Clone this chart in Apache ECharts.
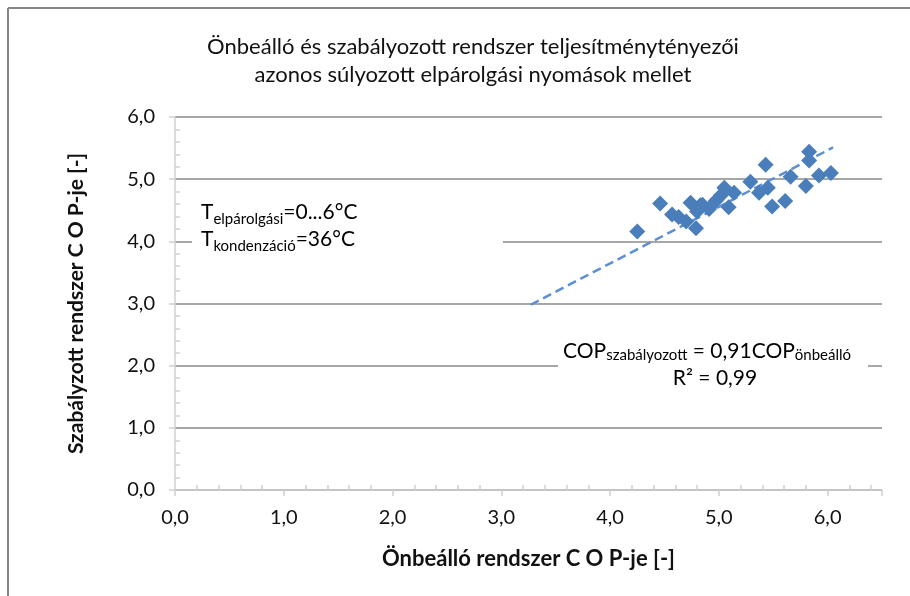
<!DOCTYPE html>
<html>
<head>
<meta charset="utf-8">
<script src="https://cdn.jsdelivr.net/npm/echarts@6/dist/echarts.min.js"></script>
<style>
  html, body { margin: 0; padding: 0; background: #fff; }
  #chart { width: 910px; height: 596px; }
</style>
</head>
<body>
<div id="chart"></div>
<script>
    // Önbeálló (x) és szabályozott (y) COP értékek
    var copOnbeallo = [4.25, 4.46, 4.57, 4.63, 4.70, 4.74, 4.79, 4.83, 4.85, 4.80, 4.91, 4.97,
        5.02, 5.05, 5.09, 5.14, 5.29, 5.37, 5.45, 5.43, 5.49, 5.61, 5.66, 5.80, 5.83, 5.83, 5.92, 6.03];
    var copSzabalyozott = [4.16, 4.61, 4.43, 4.39, 4.32, 4.62, 4.21, 4.58, 4.59, 4.48, 4.52, 4.65,
        4.74, 4.86, 4.55, 4.78, 4.96, 4.78, 4.86, 5.23, 4.56, 4.65, 5.04, 4.89, 5.44, 5.30, 5.06, 5.10];
    // trendvonal végpontjai
    var trendX = [3.27, 6.05];
    var trendY = [2.98, 5.51];
    var xTicks = [0, 1, 2, 3, 4, 5, 6];
    var yTicks = [0, 1, 2, 3, 4, 5, 6];

    var font = 'Lato, "Open Sans", sans-serif';
    var myChart = echarts.init(document.getElementById('chart'));

    function comma(v) {
        return v.toFixed(1).replace('.', ',');
    }

    var points = copOnbeallo.map(function (x, i) { return [x, copSzabalyozott[i]]; });
    var trend = trendX.map(function (x, i) { return [x, trendY[i]]; });

    var option = {
        animation: false,
        backgroundColor: '#fff',
        title: {
            text: 'Önbeálló és szabályozott rendszer teljesítménytényezői\nazonos súlyozott elpárolgási nyomások mellet',
            left: 468,
            top: 28,
            textAlign: 'center',
            textStyle: {fontFamily: font, fontWeight: 'normal', fontSize: 22, color: '#111', lineHeight: 28}
        },
        grid: {left: 175, right: 28, top: 117, bottom: 106},
        xAxis: [{
            type: 'value', min: 0, max: 6.5, interval: 1,
            name: 'Önbeálló rendszer C O P-je [-]',
            nameLocation: 'middle', nameGap: 58,
            nameTextStyle: {fontFamily: font, fontWeight: 'bold', fontSize: 22, color: '#111'},
            axisLine: {lineStyle: {color: '#d0d0d0', width: 1.5}},
            axisTick: {show: true, length: 6, lineStyle: {color: '#d0d0d0', width: 1.5}},
            axisLabel: {
                fontFamily: font, fontSize: 20, color: '#111', margin: 18,
                formatter: function (v) { return xTicks.indexOf(v) >= 0 ? comma(v) : ''; }
            },
            splitLine: {show: false}
        }, {
            type: 'value', min: 0, max: 6.5, interval: 1, position: 'bottom',
            axisLine: {show: false},
            axisTick: {show: false, inside: true},
            minorTick: {show: true, splitNumber: 5, length: 5, lineStyle: {color: '#d0d0d0', width: 1.5}},
            axisLabel: {show: false},
            splitLine: {show: false}
        }],
        yAxis: [{
            type: 'value', min: 0, max: 6, interval: 1,
            name: 'Szabályzott rendszer C O P-je [-]',
            nameLocation: 'middle', nameGap: 88,
            nameTextStyle: {fontFamily: font, fontWeight: 'bold', fontSize: 21, color: '#111'},
            axisLine: {show: true, lineStyle: {color: '#d0d0d0', width: 1.5}},
            axisTick: {show: true, length: 6, lineStyle: {color: '#d0d0d0', width: 1.5}},
            axisLabel: {
                fontFamily: font, fontSize: 20, color: '#111', margin: 20,
                formatter: function (v) { return yTicks.indexOf(v) >= 0 ? comma(v) : ''; }
            },
            splitLine: {show: true, lineStyle: {color: '#8a8a8a', width: 1.5}}
        }, {
            type: 'value', min: 0, max: 6, interval: 1, position: 'left',
            axisLine: {show: false},
            axisTick: {show: false, inside: true},
            minorTick: {show: true, splitNumber: 5, length: 5, lineStyle: {color: '#d0d0d0', width: 1.5}},
            axisLabel: {show: false},
            splitLine: {show: false}
        }],
        series: [{
            type: 'line',
            data: trend,
            symbol: 'none',
            z: 3,
            lineStyle: {color: '#5b8fd6', width: 2.5, type: [9, 5]}
        }, {
            type: 'scatter',
            data: points,
            symbol: 'diamond',
            symbolSize: 16,
            z: 4,
            itemStyle: {color: '#4a7ebb', opacity: 1}
        }],
        graphic: [
            // keret
            {type: 'line', shape: {x1: 8, y1: 8, x2: 8, y2: 596}, style: {stroke: '#868686', lineWidth: 2}},
            {type: 'line', shape: {x1: 8, y1: 8, x2: 910, y2: 8}, style: {stroke: '#868686', lineWidth: 2}},
            // hőmérséklet felirat
            {type: 'rect', shape: {x: 192, y: 200, width: 311, height: 64}, style: {fill: '#fff'}, z: 50},
            {
                type: 'text', left: 201, top: 202, z: 51,
                style: {
                    text: '{t|T}{s|elpárolgási}{t|=0...6°C}\n{t|T}{s|kondenzáció}{t|=36°C}',
                    rich: {
                        t: {fontFamily: font, fontSize: 21, color: '#111', lineHeight: 27, verticalAlign: 'bottom'},
                        s: {fontFamily: font, fontSize: 15, color: '#111', lineHeight: 27, verticalAlign: 'bottom', padding: [0, 0, -4, 0]}
                    }
                }
            },
            // egyenlet felirat
            {type: 'rect', shape: {x: 558, y: 338, width: 310, height: 62}, style: {fill: '#fff'}, z: 50},
            {
                type: 'text', left: 563, top: 340, z: 51,
                style: {
                    text: '{t|COP}{s|szabályozott}{t| = 0,91COP}{s|önbeálló}\n{c|R² = 0,99}',
                    width: 304,
                    align: 'center',
                    rich: {
                        t: {fontFamily: font, fontSize: 21, color: '#111', lineHeight: 27},
                        s: {fontFamily: font, fontSize: 15, color: '#111', lineHeight: 27, padding: [8, 0, 0, 0]},
                        c: {fontFamily: font, fontSize: 21, color: '#111', lineHeight: 27, width: 280, align: 'center'}
                    }
                }
            }
        ]
    };
    myChart.setOption(option);
</script>
</body>
</html>
